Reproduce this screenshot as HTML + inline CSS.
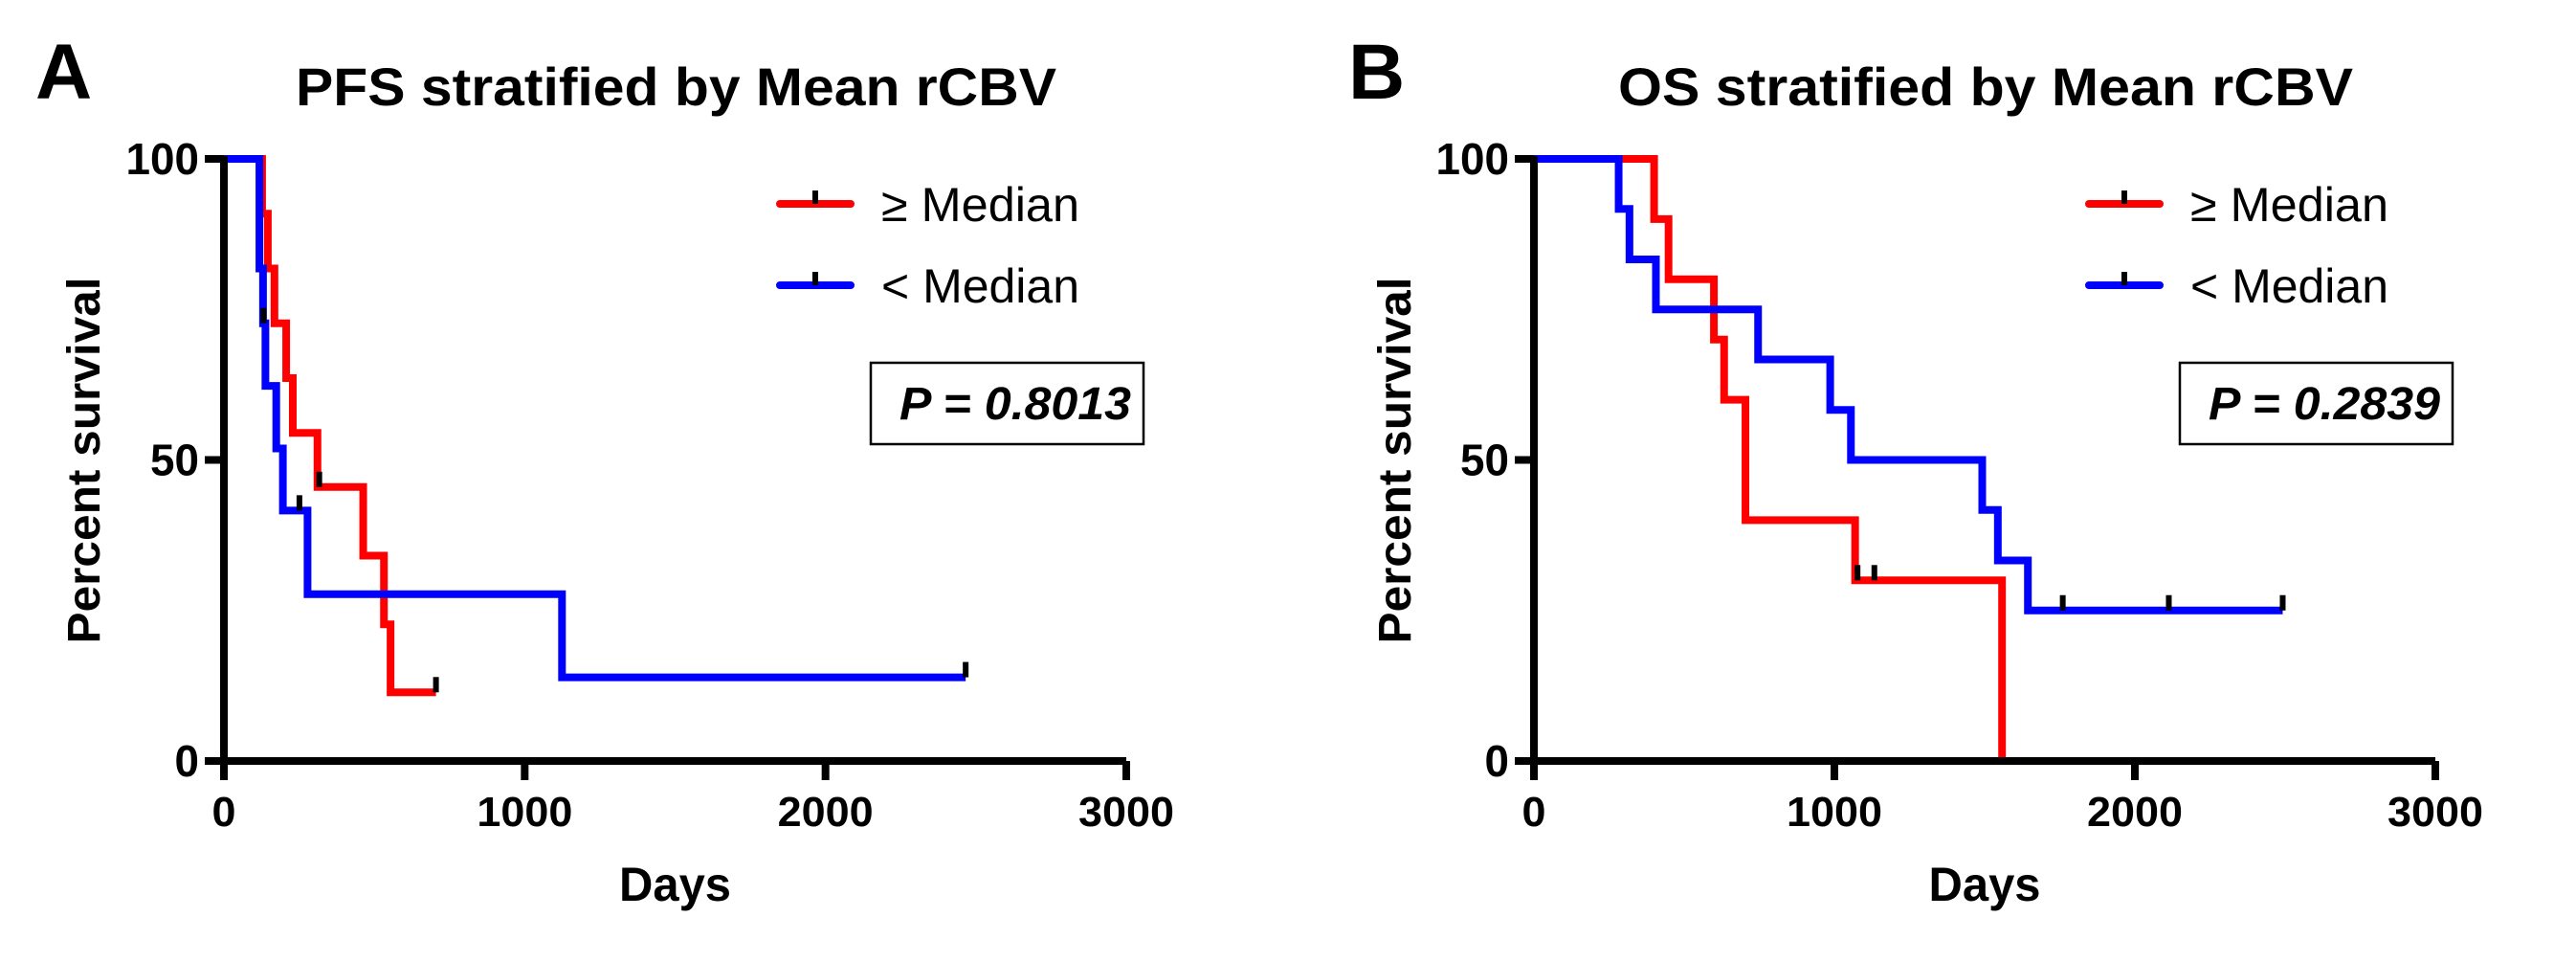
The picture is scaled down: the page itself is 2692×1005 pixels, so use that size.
<!DOCTYPE html>
<html><head><meta charset="utf-8"><style>
html,body{margin:0;padding:0;background:#fff;}
svg{display:block;font-family:"Liberation Sans",sans-serif;}
</style></head><body>
<svg id="fig" width="2692" height="1005" viewBox="0 0 2692 1005" xmlns="http://www.w3.org/2000/svg"></svg>
<script>
// Panel A: PFS
const pfsHighTimes = [127,146,168,207,229,311,463,532,554];
const pfsHighSurv  = [90.9,81.8,72.7,63.6,54.5,45.5,34.1,22.7,11.4];
const pfsHighCens  = [317,705];
const pfsLowTimes  = [118,130,138,174,196,278,1124];
const pfsLowSurv   = [81.8,72.7,62.3,51.9,41.6,27.7,13.9];
const pfsLowCens   = [132,251,2466];
// Panel B: OS
const osHighTimes = [400,448,599,633,704,1069,1558];
const osHighSurv  = [90,80,70,60,40,30,0];
const osHighCens  = [1077,1133];
const osLowTimes  = [282,318,406,746,986,1055,1492,1544,1644];
const osLowSurv   = [91.7,83.3,75,66.7,58.3,50,41.7,33.3,25];
const osLowCens   = [1760,2113,2492];
const xTicks = [0,1000,2000,3000];
const yTicks = [0,50,100];
const legendLabels = ["\u2265 Median","< Median"];

const NS="http://www.w3.org/2000/svg";
const svg=document.getElementById('fig');
function mk(tag,attrs,parent){const e=document.createElementNS(NS,tag);for(const k in attrs)e.setAttribute(k,attrs[k]);(parent||svg).appendChild(e);return e;}

function panel(o){
  const g=mk('g',{});
  
  
  const X=d=>o.x0+(o.x1-o.x0)*d/3000;
  const Y=v=>o.y0+(o.y100-o.y0)*v/100;
  let t=mk('text',{x:o.letterX,y:103,'font-size':82,'font-weight':'bold'},g);t.textContent=o.letter;
  
  t=mk('text',{x:o.titleX,y:110,'font-size':56,'font-weight':'bold',textLength:o.titleW,lengthAdjust:'spacingAndGlyphs'},g);t.textContent=o.title;
  
  function series(times,surv,cens,color,name){
    let d='M'+X(0)+' '+Y(100);
    const all=times.map((tt,i)=>({t:tt,s:surv[i]}));
    all.forEach(p=>{d+=' H'+X(p.t)+' V'+Y(p.s);});
    const endT=Math.max(times[times.length-1],...cens);
    if(endT>times[times.length-1]) d+=' H'+X(endT);
    const p=mk('path',{d:d,fill:'none',stroke:color,'stroke-width':8,'stroke-linejoin':'miter'},g);
    
    cens.forEach(c=>{let s=100;all.forEach(q=>{if(q.t<=c)s=q.s;});
      const r=mk('rect',{x:X(c)-3,y:Y(s)-16,width:6,height:16,fill:'#000'},g);
      });
  }
  series(o.hi[0],o.hi[1],o.hi[2],'#ff0000','median-high');
  series(o.lo[0],o.lo[1],o.lo[2],'#0000ff','median-low');
  let a=mk('path',{d:`M${X(0)} ${Y(100)-3} V${Y(0)} H${X(3000)}`,fill:'none',stroke:'#000','stroke-width':8},g);
  
  yTicks.forEach(v=>{mk('line',{x1:X(0)-20,x2:X(0),y1:Y(v),y2:Y(v),stroke:'#000','stroke-width':8},g);
    const tt=mk('text',{x:X(0)-26,y:Y(v)+16,'font-size':46,'font-weight':'bold','text-anchor':'end',textLength:String(v).length*25.5,lengthAdjust:'spacingAndGlyphs'},g);tt.textContent=v;
    });
  xTicks.forEach(v=>{mk('line',{x1:X(v),x2:X(v),y1:Y(0),y2:Y(0)+20,stroke:'#000','stroke-width':8},g);
    const tt=mk('text',{x:X(v),y:863,'font-size':44,'font-weight':'bold','text-anchor':'middle',textLength:String(v).length*25,lengthAdjust:'spacingAndGlyphs'},g);tt.textContent=v;
    });
  t=mk('text',{x:(X(0)+X(3000))/2,y:941,'font-size':50,'font-weight':'bold','text-anchor':'middle',textLength:117,lengthAdjust:'spacingAndGlyphs'},g);t.textContent='Days';
  
  t=mk('text',{x:0,y:0,'font-size':48,'font-weight':'bold','text-anchor':'middle',transform:`translate(${o.ylabX},481) rotate(-90)`,textLength:383,lengthAdjust:'spacingAndGlyphs'},g);t.textContent='Percent survival';
  
  [['#ff0000',213],['#0000ff',298]].forEach((L,i)=>{
    const ln=mk('line',{x1:o.legX,x2:o.legX+74,y1:L[1],y2:L[1],stroke:L[0],'stroke-width':8,'stroke-linecap':'round'},g);
    
    mk('rect',{x:o.legX+34,y:L[1]-14,width:6,height:14,fill:'#000'},g);
    const tt=mk('text',{x:o.legX+106,y:L[1]+18,'font-size':50,textLength:207,lengthAdjust:'spacingAndGlyphs'},g);tt.textContent=legendLabels[i];
    
  });
  const b=mk('rect',{x:o.boxX,y:379,width:285,height:85,fill:'#fff',stroke:'#000','stroke-width':2.5},g);
  
  t=mk('text',{x:o.boxX+272,y:438,'font-size':48,'font-weight':'bold','font-style':'italic','text-anchor':'end',textLength:242,lengthAdjust:'spacingAndGlyphs'},g);t.textContent=o.p;
  
}
panel({id:'pfs',letter:'A',letterX:37,title:'PFS stratified by Mean rCBV',titleX:309,titleW:795,
  x0:234,x1:1177,y0:795,y100:166,ylabX:104,legX:815,boxX:910,p:'P = 0.8013',
  hi:[pfsHighTimes,pfsHighSurv,pfsHighCens],lo:[pfsLowTimes,pfsLowSurv,pfsLowCens]});
panel({id:'os',letter:'B',letterX:1409,title:'OS stratified by Mean rCBV',titleX:1691,titleW:768,
  x0:1603,x1:2545,y0:795,y100:166,ylabX:1474,legX:2183,boxX:2278,p:'P = 0.2839',
  hi:[osHighTimes,osHighSurv,osHighCens],lo:[osLowTimes,osLowSurv,osLowCens]});
</script>
</body></html>
